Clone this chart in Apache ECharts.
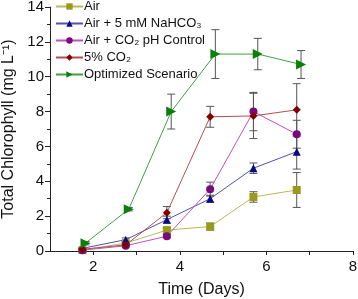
<!DOCTYPE html>
<html>
<head>
<meta charset="utf-8">
<script src="https://cdn.jsdelivr.net/npm/echarts@6/dist/echarts.min.js"></script>
<style>
  html, body { margin: 0; padding: 0; background: #fff; }
  #main { width: 358px; height: 299px; }
</style>
</head>
<body>
<div id="main"></div>
<script>
// sampling days (green series drawn slightly offset in the original)
var days = [1.75, 2.75, 3.7, 4.7, 5.7, 6.7];
var greenDays = [1.82, 2.82, 3.8, 4.82, 5.8, 6.8];

var names = ['Air', 'Air + 5 mM NaHCO\u2083', 'Air + CO\u2082 pH Control', '5% CO\u2082', 'Optimized Scenario'];

var air      = [0.05, 0.45, 1.2, 1.4, 3.1, 3.5];
var airErr   = [0.05, 0.05, 0.1, 0.2, 0.3, 1.0];
var nahco3   = [0.15, 0.65, 1.8, 3.0, 4.75, 5.7];
var nahErr   = [0.05, 0.1, 0.2, 0.2, 0.3, 1.0];
var phCtrl   = [0.05, 0.3, 0.85, 3.55, 8.0, 6.7];
var phErr    = [0.05, 0.05, 0.1, 0.4, 1.1, 0.8];
var co2      = [0.1, 0.35, 2.2, 7.7, 7.75, 8.1];
var co2Err   = [0.05, 0.1, 0.35, 0.6, 1.3, 1.5];
var optim    = [0.45, 2.4, 8.0, 11.3, 11.3, 10.7];
var optErr   = [0.1, 0.1, 1.0, 1.4, 0.9, 0.8];

var markerColors = ['#9a9a1a', '#0a0a80', '#7a0a7a', '#800000', '#0a800a'];
var lineColors   = ['#b8b860', '#5050b0', '#c050c0', '#b05050', '#40a040'];
var symbols = ['rect', 'triangle', 'circle', 'diamond', 'triangle'];
var rotates = [0, 0, 0, 0, -90];

var sets = [
  [days, air, airErr],
  [days, nahco3, nahErr],
  [days, phCtrl, phErr],
  [days, co2, co2Err],
  [greenDays, optim, optErr]
];

var series = [];
var errData = [];
sets.forEach(function (s, k) {
  var pts = s[0].map(function (d, i) { return [d, s[1][i]]; });
  series.push({
    name: names[k],
    type: 'line',
    data: pts,
    symbol: symbols[k],
    symbolSize: k === 4 ? 10 : 8,
    symbolRotate: rotates[k],
    z: 3,
    lineStyle: { color: lineColors[k], width: 1 },
    itemStyle: { color: markerColors[k] }
  });
  s[0].forEach(function (d, i) {
    errData.push([d, s[1][i] - s[2][i], s[1][i] + s[2][i]]);
  });
});

series.push({
  type: 'custom',
  z: 2,
  data: errData,
  renderItem: function (params, api) {
    var lo = api.coord([api.value(0), api.value(1)]);
    var hi = api.coord([api.value(0), api.value(2)]);
    var w = 4;
    var st = { stroke: '#555', lineWidth: 1 };
    return {
      type: 'group',
      children: [
        { type: 'line', shape: { x1: lo[0], y1: lo[1], x2: hi[0], y2: hi[1] }, style: st },
        { type: 'line', shape: { x1: lo[0] - w, y1: lo[1], x2: lo[0] + w, y2: lo[1] }, style: st },
        { type: 'line', shape: { x1: hi[0] - w, y1: hi[1], x2: hi[0] + w, y2: hi[1] }, style: st }
      ]
    };
  }
});

var font = 'Liberation Sans, Arial, sans-serif';
var chart = echarts.init(document.getElementById('main'));
chart.setOption({
  animation: false,
  grid: { left: 50, right: 5, top: 7, bottom: 48, outerBoundsMode: 'none' },
  legend: {
    data: names,
    orient: 'vertical',
    left: 55,
    top: 0,
    itemWidth: 27,
    itemHeight: 8,
    itemGap: 4,
    padding: 0,
    textStyle: { fontFamily: font, fontSize: 13, color: '#111', padding: [0, 0, 0, -4] }
  },
  xAxis: {
    type: 'value',
    min: 1, max: 8, interval: 1,
    name: 'Time (Days)',
    nameLocation: 'middle',
    nameGap: 31,
    nameTextStyle: { fontFamily: font, fontSize: 16, color: '#111' },
    axisLine: { lineStyle: { color: '#222' } },
    axisTick: { show: true, length: 4, lineStyle: { color: '#222' } },
    splitLine: { show: false },
    axisLabel: {
      fontFamily: font, fontSize: 15, color: '#111', showMinLabel: false,
      formatter: function (v) { return v % 2 === 0 ? String(v) : ''; }
    }
  },
  yAxis: {
    type: 'value',
    min: 0, max: 14, interval: 2,
    name: 'Total Chlorophyll (mg L\u207b\u00b9)',
    nameLocation: 'middle',
    nameGap: 30,
    nameTextStyle: { fontFamily: font, fontSize: 16, color: '#111' },
    axisLine: { show: true, lineStyle: { color: '#222' } },
    axisTick: { show: true, length: 5, lineStyle: { color: '#222' } },
    minorTick: { show: true, splitNumber: 2, length: 3, lineStyle: { color: '#222' } },
    splitLine: { show: false },
    axisLabel: { fontFamily: font, fontSize: 15, color: '#111', margin: 6 }
  },
  series: series
});
</script>
</body>
</html>
